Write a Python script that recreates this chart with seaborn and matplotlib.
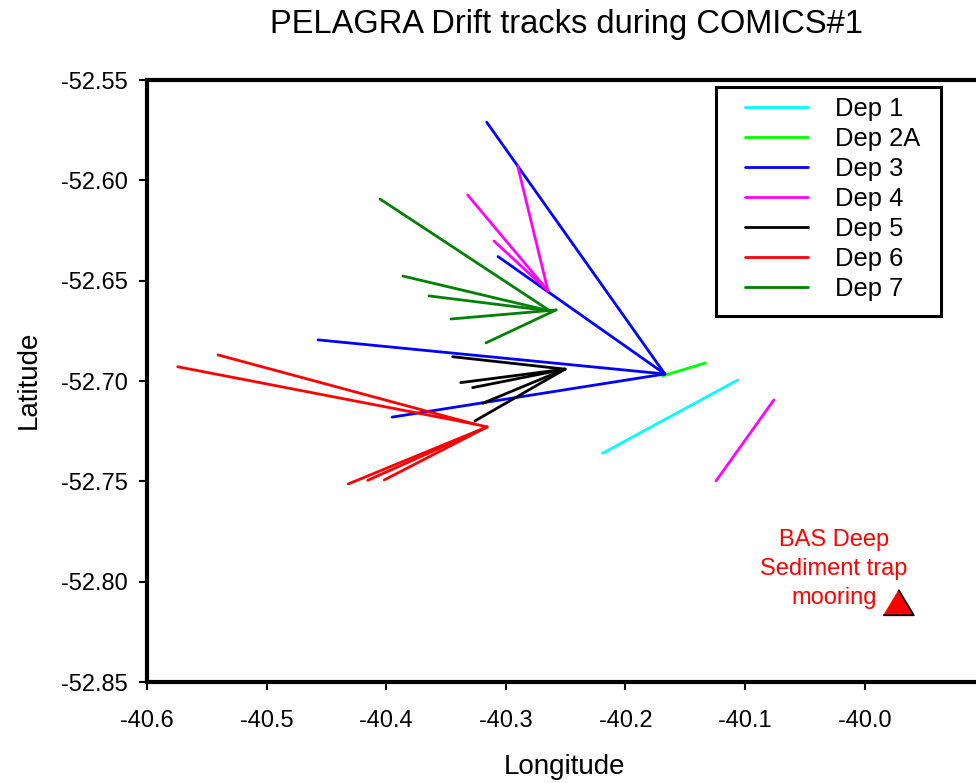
import numpy as np
import pandas as pd
import matplotlib
matplotlib.use("Agg")
import matplotlib.pyplot as plt
from matplotlib.ticker import FormatStrFormatter
from matplotlib.patches import Rectangle
import seaborn as sns

# ---------------- data ----------------
deployments = ["Dep 1", "Dep 2A", "Dep 3", "Dep 4", "Dep 5", "Dep 6", "Dep 7"]
dep_colors = ["#00FFFF", "#00FF00", "#0000FF", "#FF00FF", "#000000", "#FF0000", "#008000"]

dep1_lon = [-40.219, -40.106]
dep1_lat = [-52.736, -52.6995]
dep1_seg = [0, 0]

dep2a_lon = [-40.169, -40.133]
dep2a_lat = [-52.6975, -52.691]
dep2a_seg = [0, 0]

dep3_lon = [-40.316, -40.167, -40.3065, -40.167, -40.457, -40.167, -40.395, -40.167]
dep3_lat = [-52.571, -52.6965, -52.638, -52.6965, -52.6795, -52.6965, -52.718, -52.6965]
dep3_seg = [0, 0, 1, 1, 2, 2, 3, 3]

dep4_lon = [-40.290, -40.2647, -40.3319, -40.2647, -40.3099, -40.2647, -40.1242, -40.0758]
dep4_lat = [-52.593, -52.6551, -52.6073, -52.6551, -52.6302, -52.6551, -52.7498, -52.7094]
dep4_seg = [0, 0, 1, 1, 2, 2, 3, 3]

dep5_lon = [-40.3444, -40.2505, -40.3377, -40.2505, -40.3277, -40.2505,
            -40.3193, -40.2505, -40.3258, -40.2505]
dep5_lat = [-52.6879, -52.6941, -52.7008, -52.6941, -52.7033, -52.6941,
            -52.7111, -52.6941, -52.7199, -52.6941]
dep5_seg = [0, 0, 1, 1, 2, 2, 3, 3, 4, 4]

dep6_lon = [-40.5743, -40.3266, -40.5406, -40.3266, -40.3266, -40.3157,
            -40.4317, -40.3157, -40.4155, -40.3157, -40.4016, -40.3157]
dep6_lat = [-52.6929, -52.7214, -52.6870, -52.7214, -52.7214, -52.7229,
            -52.7513, -52.7229, -52.7495, -52.7229, -52.7493, -52.7229]
dep6_seg = [0, 0, 1, 1, 2, 2, 3, 3, 4, 4, 5, 5]

dep7_lon = [-40.4052, -40.263, -40.386, -40.263, -40.3642, -40.263,
            -40.3458, -40.258, -40.3166, -40.258]
dep7_lat = [-52.6093, -52.6651, -52.6477, -52.6651, -52.6576, -52.6651,
            -52.6691, -52.6646, -52.6810, -52.6646]
dep7_seg = [0, 0, 1, 1, 2, 2, 3, 3, 4, 4]

mooring_lon = [-39.972]
mooring_lat = [-52.810]
mooring_label = "BAS Deep\nSediment trap\nmooring"

x_ticks = [-40.6, -40.5, -40.4, -40.3, -40.2, -40.1, -40.0]
y_ticks = [-52.55, -52.60, -52.65, -52.70, -52.75, -52.80, -52.85]

title = "PELAGRA Drift tracks during COMICS#1"
x_label = "Longitude"
y_label = "Latitude"

# ---------------- build table ----------------
tracks = [
    (dep1_lon, dep1_lat, dep1_seg),
    (dep2a_lon, dep2a_lat, dep2a_seg),
    (dep3_lon, dep3_lat, dep3_seg),
    (dep4_lon, dep4_lat, dep4_seg),
    (dep5_lon, dep5_lat, dep5_seg),
    (dep6_lon, dep6_lat, dep6_seg),
    (dep7_lon, dep7_lat, dep7_seg),
]
rows = []
for name, (lon, lat, seg) in zip(deployments, tracks):
    for lo, la, sg in zip(lon, lat, seg):
        rows.append({"lon": lo, "lat": la, "dep": name, "seg": f"{name}-{sg}"})
df = pd.DataFrame(rows)

# ---------------- style ----------------
sns.set_theme(style="white")
plt.rcParams["font.family"] = ["Liberation Sans", "DejaVu Sans"]
plt.rcParams["axes.unicode_minus"] = False
plt.rcParams["text.color"] = "black"

fig = plt.figure(figsize=(9.76, 7.83), dpi=100)
W, H = 976, 783
ax_left, ax_right_px, ax_top, ax_bottom = 147, 147 + 0.7 * 1196, 80, 682
ax = fig.add_axes([ax_left / W, (H - ax_bottom) / H,
                   (ax_right_px - ax_left) / W, (ax_bottom - ax_top) / H])

sns.lineplot(data=df, x="lon", y="lat", hue="dep", units="seg", estimator=None,
             sort=False, palette=dict(zip(deployments, dep_colors)),
             hue_order=deployments, linewidth=2.0, ax=ax, legend=True)

sns.scatterplot(x=mooring_lon, y=mooring_lat, ax=ax,
                marker=[(-1.2, -1.0), (1.2, -1.0), (0.0, 1.0)],
                s=22 ** 2, color="#FF0000", edgecolor="black", linewidth=1.3,
                zorder=5, legend=False)

ax.text(-40.0256, -52.7936, mooring_label, color="#FF0000", fontsize=17,
        ha="center", va="center", multialignment="center", linespacing=1.4)

ax.set_xlim(-40.6, -39.9)
ax.set_ylim(-52.85, -52.55)
ax.set_xticks(x_ticks)
ax.set_yticks(y_ticks)
ax.xaxis.set_major_formatter(FormatStrFormatter("%.1f"))
ax.yaxis.set_major_formatter(FormatStrFormatter("%.2f"))
ax.tick_params(axis="both", direction="out", length=6, width=1.5, color="black",
               labelsize=17, labelcolor="black")
ax.tick_params(axis="x", pad=14)
ax.tick_params(axis="y", pad=8)
ax.tick_params(bottom=True, left=True)

for side in ["left", "bottom", "top"]:
    ax.spines[side].set_visible(True)
    ax.spines[side].set_color("black")
    ax.spines[side].set_linewidth(3)
ax.spines["right"].set_visible(False)

ax.set_xlabel(x_label, fontsize=20, color="black")
ax.set_ylabel(y_label, fontsize=20, color="black")
ax.xaxis.set_label_coords((565 - ax_left) / (ax_right_px - ax_left), -(754 - ax_bottom) / (ax_bottom - ax_top))
ax.yaxis.set_label_coords((42 - ax_left) / (ax_right_px - ax_left), (ax_bottom - 380) / (ax_bottom - ax_top))

fig.text(567 / W, 1 - 25 / H, title, fontsize=23.5, ha="center", va="center", color="black")

# legend: content without frame + explicit frame rectangle
leg_old = ax.get_legend()
handles = leg_old.legend_handles
labels = [t.get_text() for t in leg_old.texts]
leg = ax.legend(handles, labels, loc="upper left", bbox_to_anchor=(745 / W, 1 - 97 / H),
                bbox_transform=fig.transFigure, borderaxespad=0, borderpad=0,
                fontsize=18.4, frameon=False, handlelength=2.47, handletextpad=1.06,
                labelspacing=0.235, title=None)
for h in leg.legend_handles:
    h.set_linewidth(2.0)
for t in leg.get_texts():
    t.set_color("black")
leg.set_zorder(8)

frame = Rectangle((716 / W, 1 - 316 / H), (941 - 716) / W, (316 - 87) / H,
                  transform=fig.transFigure, fill=True, facecolor="white",
                  edgecolor="black", linewidth=2.2, zorder=7, clip_on=False)
ax.add_patch(frame)

fig.savefig("out.png", dpi=100)
